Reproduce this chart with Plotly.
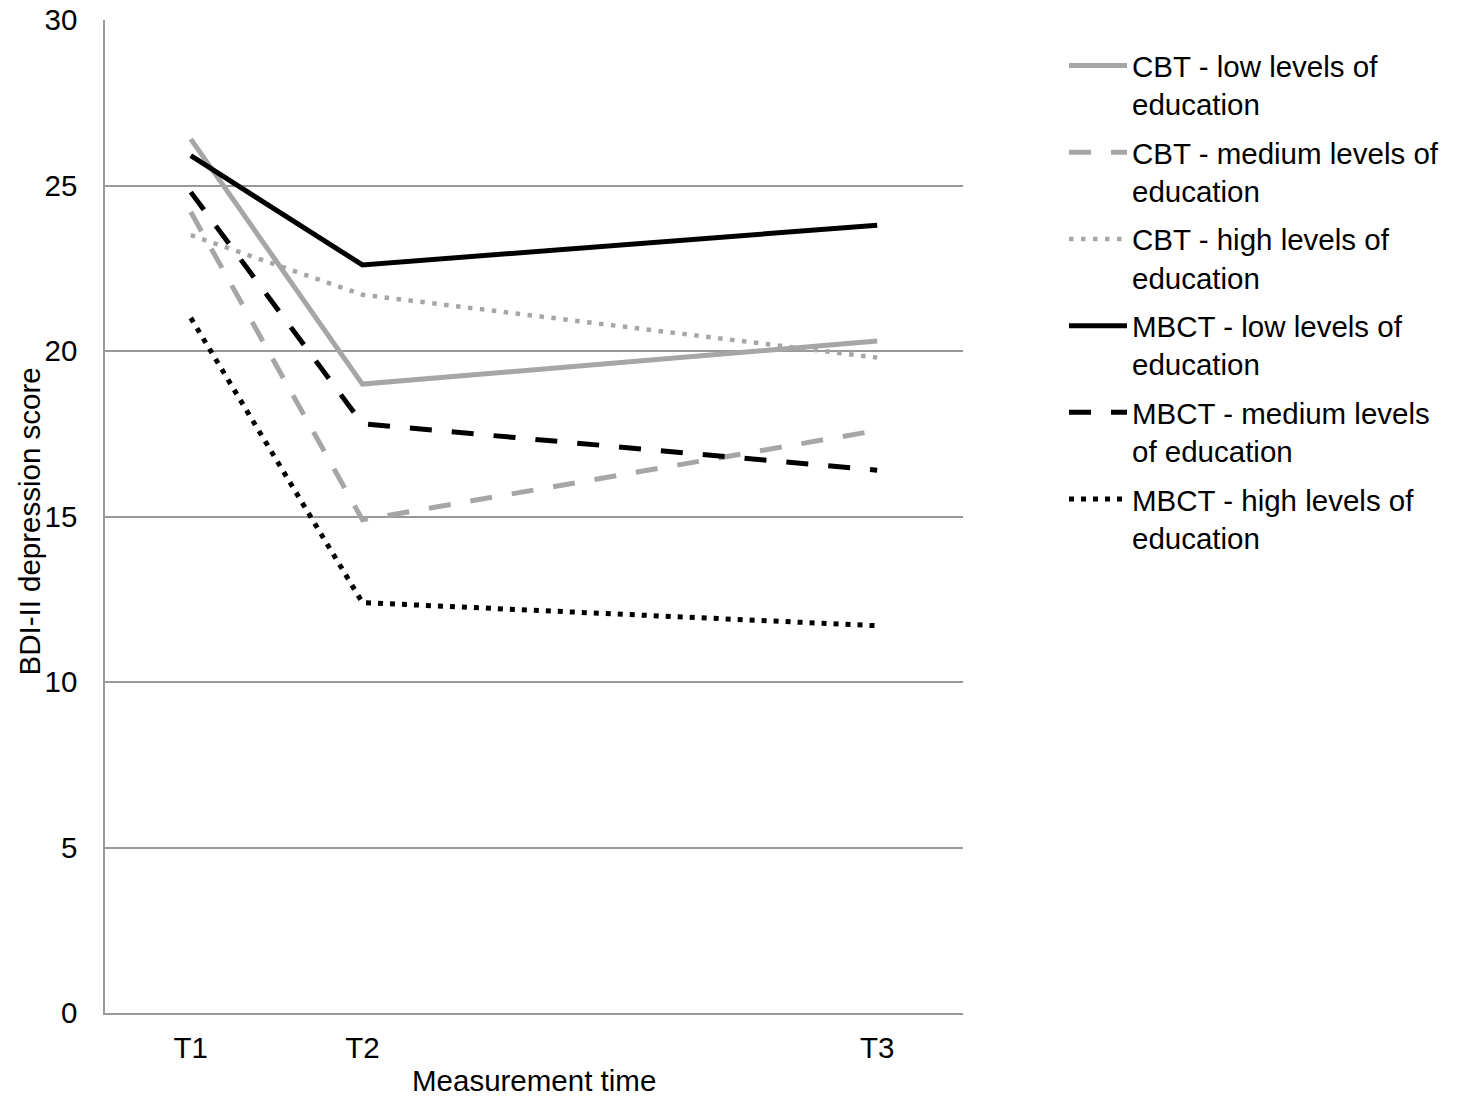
import plotly.graph_objects as go

# Data
time_labels = ["T1", "T2", "T3"]
time_pos = [0, 1, 4]

cbt_low = [26.4, 19.0, 20.3]
cbt_medium = [24.2, 14.9, 17.6]
cbt_high = [23.5, 21.7, 19.8]
mbct_low = [25.9, 22.6, 23.8]
mbct_medium = [24.8, 17.8, 16.4]
mbct_high = [21.0, 12.4, 11.7]

series_names = [
    "CBT - low levels of<br>education",
    "CBT - medium levels of<br>education",
    "CBT - high levels of<br>education",
    "MBCT - low levels of<br>education",
    "MBCT - medium levels<br>of education",
    "MBCT - high levels of<br>education",
]
series_values = [cbt_low, cbt_medium, cbt_high, mbct_low, mbct_medium, mbct_high]

x_title = "Measurement time"
y_title = "BDI-II depression score"

GRAY = "#a6a6a6"
BLACK = "#000000"
styles = [
    dict(color=GRAY, width=5, dash="solid"),
    dict(color=GRAY, width=5, dash="22px,20px"),
    dict(color=GRAY, width=4.5, dash="4.5px,7.5px"),
    dict(color=BLACK, width=5, dash="solid"),
    dict(color=BLACK, width=5, dash="22px,20px"),
    dict(color=BLACK, width=5, dash="5px,7px"),
]

FONT = "Liberation Sans, Arial, sans-serif"
FS = 29.5

fig = go.Figure()
for i, (name, vals, st) in enumerate(zip(series_names, series_values, styles)):
    fig.add_trace(go.Scatter(
        x=time_pos, y=vals, mode="lines", name=name,
        line=st, legendgroup=f"g{i}",
    ))

fig.update_layout(
    width=1460, height=1101,
    margin=dict(l=105, r=497, t=20, b=88, autoexpand=False),
    paper_bgcolor="white", plot_bgcolor="white",
    font=dict(family=FONT, size=FS, color="black"),
    showlegend=True,
    legend=dict(
        x=1.1177, y=0.98, xanchor="left", yanchor="top",
        font=dict(family=FONT, size=FS, color="black"),
        itemwidth=58, tracegroupgap=7, valign="top",
        bgcolor="rgba(0,0,0,0)",
    ),
    annotations=[
        dict(text=x_title, xref="paper", yref="paper", x=0.5, y=-0.0675,
             xanchor="center", yanchor="middle", showarrow=False,
             font=dict(family=FONT, size=FS, color="black")),
        dict(text=y_title, xref="paper", yref="paper", x=-0.0885, y=0.495,
             xanchor="center", yanchor="middle", showarrow=False, textangle=-90,
             font=dict(family=FONT, size=FS, color="black")),
    ],
)

fig.update_xaxes(
    range=[-0.5, 4.5], automargin=False,
    tickmode="array", tickvals=time_pos, ticktext=time_labels,
    showgrid=False, zeroline=False,
    showline=True, linecolor="#999999", linewidth=1.5,
    ticks="", ticklabelstandoff=8,
    tickfont=dict(family=FONT, size=FS, color="black"),
)
fig.update_yaxes(
    range=[0, 30], dtick=5, tick0=0, automargin=False,
    showgrid=True, gridcolor="#999999", gridwidth=1.5,
    zeroline=False,
    showline=True, linecolor="#999999", linewidth=1.5,
    ticks="", ticklabelstandoff=20, ticklabeloverflow="allow",
    tickfont=dict(family=FONT, size=FS, color="black"),
)

fig.write_html(
    "out.html",
    config={"displayModeBar": False},
    post_script="document.body.style.margin='0';",
)
